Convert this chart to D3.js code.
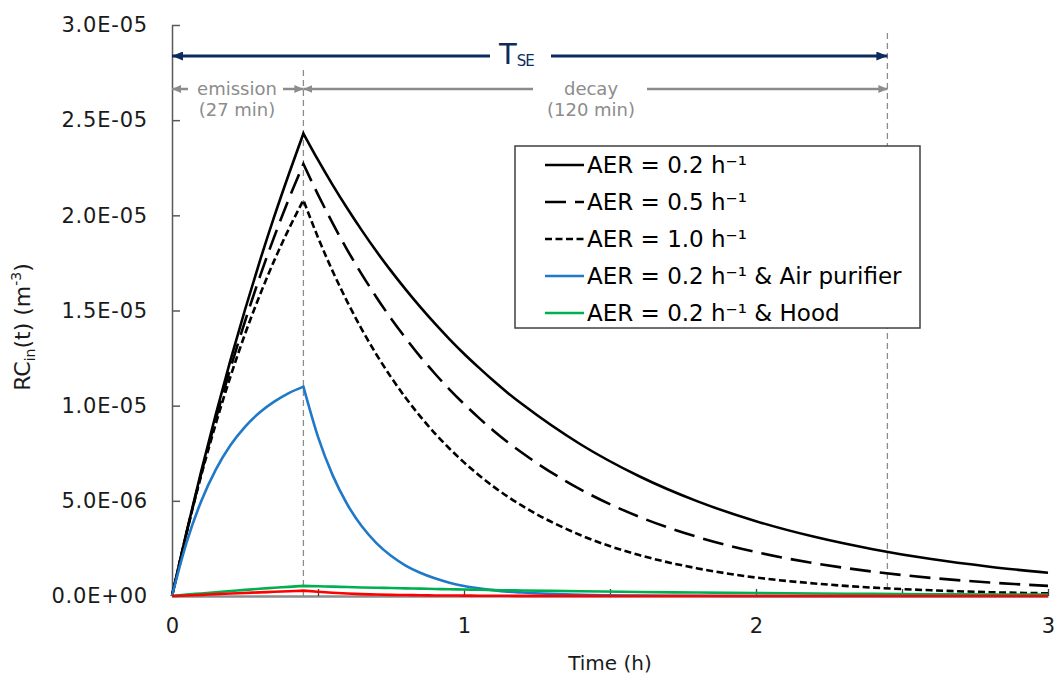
<!DOCTYPE html>
<html><head><meta charset="utf-8">
<script src="https://cdn.jsdelivr.net/npm/d3@7"></script>
<style>body{margin:0;background:#fff}svg{display:block}text{font-family:"DejaVu Sans",sans-serif}</style>
</head><body><svg id="c" width="1055" height="685"></svg>
<script>
// ---- data ----
const timeH = [0,0.05,0.1,0.15,0.2,0.25,0.3,0.35,0.4,0.45,0.5,0.55,0.6,0.65,0.7,0.75,0.8,0.85,0.9,0.95,1.0,1.05,1.1,1.15,1.2,1.4,1.6,1.8,2.0,2.2,2.4,2.6,2.8,3.0];
const aer02 = [0,3.37e-6,6.55e-6,9.55e-6,1.238e-5,1.504e-5,1.756e-5,1.993e-5,2.216e-5,2.43e-5,2.291e-5,2.160e-5,2.037e-5,1.921e-5,1.811e-5,1.708e-5,1.611e-5,1.519e-5,1.432e-5,1.350e-5,1.273e-5,1.201e-5,1.132e-5,1.067e-5,1.007e-5,7.96e-6,6.29e-6,4.97e-6,3.93e-6,3.11e-6,2.46e-6,1.94e-6,1.54e-6,1.22e-6];
const aer05 = [0,3.33e-6,6.42e-6,9.29e-6,1.196e-5,1.443e-5,1.674e-5,1.887e-5,2.086e-5,2.27e-5,2.109e-5,1.959e-5,1.819e-5,1.690e-5,1.570e-5,1.458e-5,1.355e-5,1.258e-5,1.169e-5,1.086e-5,1.009e-5,9.37e-6,8.70e-6,8.08e-6,7.51e-6,5.59e-6,4.16e-6,3.10e-6,2.31e-6,1.72e-6,1.28e-6,9.5e-7,7.1e-7,5.3e-7];
const aer10 = [0,3.32e-6,6.33e-6,9.05e-6,1.152e-5,1.376e-5,1.578e-5,1.762e-5,1.928e-5,2.08e-5,1.884e-5,1.707e-5,1.547e-5,1.401e-5,1.269e-5,1.150e-5,1.042e-5,9.44e-6,8.55e-6,7.75e-6,7.02e-6,6.36e-6,5.76e-6,5.22e-6,4.73e-6,3.19e-6,2.15e-6,1.45e-6,9.7e-7,6.6e-7,4.4e-7,3.0e-7,2.0e-7,1.4e-7];
const aer02Purifier = [0,2.82e-6,4.98e-6,6.64e-6,7.92e-6,8.89e-6,9.64e-6,1.021e-5,1.066e-5,1.10e-5,8.36e-6,6.35e-6,4.82e-6,3.66e-6,2.78e-6,2.11e-6,1.60e-6,1.22e-6,9.3e-7,7.0e-7,5.3e-7,4.1e-7,3.1e-7,2.3e-7,1.8e-7,6e-8,2e-8,1e-8,0,0,0,0,0,0];
const aer02Hood = [0,7e-8,1.35e-7,2.0e-7,2.6e-7,3.2e-7,3.8e-7,4.3e-7,4.8e-7,5.3e-7,5.1e-7,4.9e-7,4.7e-7,4.5e-7,4.3e-7,4.2e-7,4.0e-7,3.85e-7,3.7e-7,3.55e-7,3.4e-7,3.25e-7,3.1e-7,3.0e-7,2.9e-7,2.5e-7,2.1e-7,1.8e-7,1.55e-7,1.3e-7,1.1e-7,9.5e-8,8e-8,7e-8];
const unlabeledRed = [0,3e-8,6e-8,1e-7,1.3e-7,1.6e-7,1.9e-7,2.2e-7,2.5e-7,2.8e-7,2.2e-7,1.7e-7,1.3e-7,1.0e-7,8e-8,6e-8,5e-8,4e-8,3e-8,2.5e-8,2e-8,1.5e-8,1.2e-8,1e-8,8e-9,4e-9,0,0,0,0,0,0,0,0];

const seriesNames = ["AER = 0.2 h\u207B\u00B9","AER = 0.5 h\u207B\u00B9","AER = 1.0 h\u207B\u00B9","AER = 0.2 h\u207B\u00B9 & Air purifier","AER = 0.2 h\u207B\u00B9 & Hood"];
const xTickValues = [0,0.5,1,1.5,2,2.5,3];
const xTickLabels = ["0","","1","","2","","3"];
const yTickValues = [0,5e-6,1e-5,1.5e-5,2e-5,2.5e-5,3e-5];
const yTickLabels = ["0.0E+00","5.0E-06","1.0E-05","1.5E-05","2.0E-05","2.5E-05","3.0E-05"];
const emissionEnd = 0.45, decayEnd = 2.45;

// ---- styles ----
const styles = [
  {data:aer02, color:"#000", dash:null},
  {data:aer05, color:"#000", dash:"21,9"},
  {data:aer10, color:"#000", dash:"7,3.5"},
  {data:aer02Purifier, color:"#1f78c8", dash:null},
  {data:aer02Hood, color:"#00b050", dash:null},
  {data:unlabeledRed, color:"#ff0000", dash:null}
];

const svg = d3.select("#c");
const x = d3.scaleLinear().domain([0,3]).range([172,1048]);
const y = d3.scaleLinear().domain([0,3e-5]).range([596,25]);

const defs = svg.append("defs");
function marker(id,color,w,h){
  defs.append("marker").attr("id",id).attr("viewBox",`0 0 ${w} ${h}`).attr("refX",w).attr("refY",h/2)
    .attr("markerWidth",w).attr("markerHeight",h).attr("markerUnits","userSpaceOnUse").attr("orient","auto-start-reverse")
    .append("path").attr("d",`M0,0L${w},${h/2}L0,${h}Z`).attr("fill",color);
}
marker("navy","#0d2b5e",11,9);
marker("gray","#8c8c8c",9,8);

// axes
const yAxis = d3.axisLeft(y).tickValues(yTickValues).tickFormat((d,i)=>yTickLabels[i]).tickSizeInner(-8).tickSizeOuter(0).tickPadding(24);
const gy = svg.append("g").attr("transform","translate(172,0)").call(yAxis);
gy.select(".domain").attr("stroke","#595959").attr("stroke-width",1.5);
gy.selectAll(".tick line").attr("stroke","#595959").attr("stroke-width",1.5);
gy.selectAll(".tick text").attr("font-family","DejaVu Sans").attr("font-size",21).attr("fill","#1a1a1a").attr("letter-spacing","0.8px");

const xAxis = d3.axisBottom(x).tickValues(xTickValues).tickFormat((d,i)=>xTickLabels[i]).tickSizeInner(-7).tickSizeOuter(0).tickPadding(22);
const gx = svg.append("g").attr("transform","translate(0,596)").call(xAxis);
gx.select(".domain").attr("stroke","#8c8c8c").attr("stroke-width",2.5);
gx.selectAll(".tick line").attr("stroke","#404040").attr("stroke-width",1.3);
gx.selectAll(".tick text").attr("font-family","DejaVu Sans").attr("font-size",21).attr("fill","#1a1a1a");

// axis titles
svg.append("text").attr("x",610).attr("y",670).attr("text-anchor","middle").attr("font-size",20).attr("fill","#1a1a1a").text("Time (h)");
const yt = svg.append("text").attr("transform","translate(30,327) rotate(-90)").attr("text-anchor","middle").attr("font-size",22).attr("fill","#1a1a1a");
yt.append("tspan").text("RC");
yt.append("tspan").attr("font-size",14).attr("dy",5).text("in");
yt.append("tspan").attr("dy",-5).text("(t) (m");
yt.append("tspan").attr("font-size",14).attr("dy",-9).text("-3");
yt.append("tspan").attr("dy",9).text(")");

// vertical dashed markers
svg.append("line").attr("x1",x(emissionEnd)).attr("x2",x(emissionEnd)).attr("y1",70).attr("y2",596)
  .attr("stroke","#8c8c8c").attr("stroke-width",1.3).attr("stroke-dasharray","6,4");
svg.append("line").attr("x1",x(decayEnd)).attr("x2",x(decayEnd)).attr("y1",33).attr("y2",596)
  .attr("stroke","#8c8c8c").attr("stroke-width",1.3).attr("stroke-dasharray","6,4");

// series: smooth rise and smooth decay joined at a sharp peak
const peakIdx = timeH.indexOf(emissionEnd);
function seriesPath(data){
  const ln = d3.line().x(i=>x(timeH[i])).y(i=>y(data[i])).curve(d3.curveMonotoneX);
  const idx = d3.range(timeH.length);
  const rise = ln(idx.slice(0,peakIdx+1));
  const decay = ln(idx.slice(peakIdx));
  return rise + decay.replace(/^M[^A-Za-z]*/,"");
}
styles.forEach(s=>{
  svg.append("path").attr("d",seriesPath(s.data)).attr("fill","none").attr("stroke",s.color).attr("stroke-width",2.6)
    .attr("stroke-dasharray",s.dash).attr("stroke-linejoin","miter");
});

// T_SE annotation
const x0 = x(0), xe = x(emissionEnd), xd = x(decayEnd);
svg.append("line").attr("x1",x0).attr("x2",490).attr("y1",56).attr("y2",56).attr("stroke","#0d2b5e").attr("stroke-width",2.8).attr("marker-start","url(#navy)");
svg.append("line").attr("x1",551).attr("x2",xd).attr("y1",56).attr("y2",56).attr("stroke","#0d2b5e").attr("stroke-width",2.8).attr("marker-end","url(#navy)");
const tse = svg.append("text").attr("x",499).attr("y",64).attr("fill","#0d2b5e").attr("font-size",29);
tse.append("tspan").text("T");
tse.append("tspan").attr("font-size",15).attr("dy",2).attr("letter-spacing","-1px").text("SE");

// emission / decay annotation
const ga = "#8c8c8c";
svg.append("line").attr("x1",x0).attr("x2",188).attr("y1",89).attr("y2",89).attr("stroke",ga).attr("stroke-width",2.5).attr("marker-start","url(#gray)");
svg.append("line").attr("x1",283).attr("x2",xe).attr("y1",89).attr("y2",89).attr("stroke",ga).attr("stroke-width",2.5).attr("marker-end","url(#gray)");
svg.append("line").attr("x1",xe).attr("x2",533).attr("y1",89).attr("y2",89).attr("stroke",ga).attr("stroke-width",2.5).attr("marker-start","url(#gray)");
svg.append("line").attr("x1",647).attr("x2",xd).attr("y1",89).attr("y2",89).attr("stroke",ga).attr("stroke-width",2.5).attr("marker-end","url(#gray)");
svg.append("text").attr("x",237).attr("y",95).attr("text-anchor","middle").attr("font-size",18).attr("fill",ga).text("emission");
svg.append("text").attr("x",237).attr("y",116).attr("text-anchor","middle").attr("font-size",18).attr("fill",ga).text("(27 min)");
svg.append("text").attr("x",591).attr("y",95).attr("text-anchor","middle").attr("font-size",18).attr("fill",ga).text("decay");
svg.append("text").attr("x",591).attr("y",116).attr("text-anchor","middle").attr("font-size",18).attr("fill",ga).text("(120 min)");

// legend
const lg = svg.append("g");
lg.append("rect").attr("x",515).attr("y",146).attr("width",405).attr("height",182).attr("fill","#fff").attr("stroke","#404040").attr("stroke-width",1.5);
seriesNames.forEach((name,i)=>{
  const cy = 165 + i*37;
  const s = styles[i];
  lg.append("line").attr("x1",545).attr("x2",584).attr("y1",cy).attr("y2",cy).attr("stroke",s.color).attr("stroke-width",2.6).attr("stroke-dasharray",s.dash);
  lg.append("text").attr("x",587).attr("y",cy+8).attr("font-size",23).attr("fill","#000").text(name);
});
</script></body></html>
